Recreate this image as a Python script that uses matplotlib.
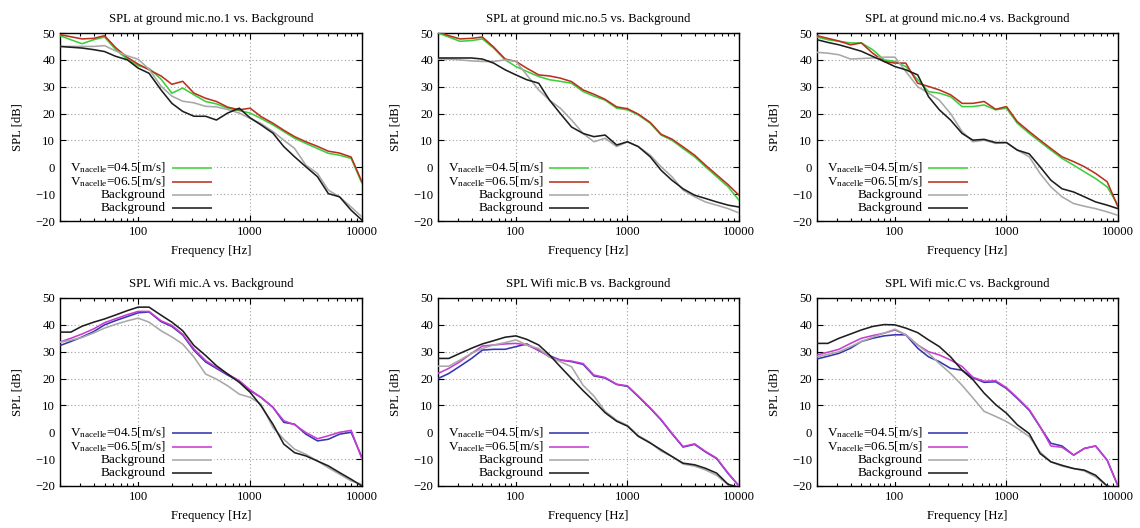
import matplotlib
matplotlib.use("Agg")
import matplotlib.pyplot as plt
from matplotlib.ticker import LogLocator, NullFormatter, FixedLocator, FixedFormatter
from matplotlib.patches import Rectangle

plt.rcParams['font.family'] = ['Liberation Serif', 'DejaVu Serif']
plt.rcParams['mathtext.fontset'] = 'custom'
plt.rcParams['mathtext.rm'] = 'Liberation Serif'
plt.rcParams['mathtext.it'] = 'Liberation Serif:italic'

# ---------------- data ----------------
freq = [20, 25, 31.5, 40, 50, 63, 80, 100, 125, 160, 200, 250, 315, 400, 500,
        630, 800, 1000, 1250, 1600, 2000, 2500, 3150, 4000, 5000, 6300, 8000, 10000]

titles = ["SPL at ground mic.no.1 vs. Background",
          "SPL at ground mic.no.5 vs. Background",
          "SPL at ground mic.no.4 vs. Background",
          "SPL Wifi mic.A vs. Background",
          "SPL Wifi mic.B vs. Background",
          "SPL Wifi mic.C vs. Background"]

labels = [r"V$_{\rm nacelle}$=04.5[m/s]", r"V$_{\rm nacelle}$=06.5[m/s]",
          "Background", "Background"]

# mic.no.1
m1_v45 = [49.0, 47.5, 46.0, 47.5, 48.5, 43.8, 40.2, 37.8, 36.8, 32.8, 27.6, 29.5, 27.0, 24.5,
          23.6, 22.0, 21.1, 20.2, 18.2, 15.8, 13.3, 10.8, 8.9, 7.0, 5.2, 4.5, 3.3, -6.0]
m1_v65 = [49.4, 48.6, 47.8, 48.0, 49.0, 44.5, 40.9, 38.4, 36.3, 34.0, 30.9, 32.0, 27.6, 25.7,
          24.5, 22.4, 21.4, 22.0, 18.9, 16.4, 13.8, 11.4, 9.5, 7.8, 6.0, 5.3, 3.8, -5.5]
m1_bg1 = [45.0, 45.0, 45.0, 45.0, 45.3, 43.3, 41.5, 40.2, 36.5, 30.2, 26.5, 24.6, 24.0, 22.7,
          22.5, 21.5, 20.2, 18.2, 16.3, 13.3, 10.1, 7.0, 0.8, -2.3, -8.5, -11.0, -14.8, -18.5]
m1_bg2 = [45.0, 44.7, 44.4, 43.8, 43.1, 41.3, 40.0, 36.9, 35.0, 28.8, 23.8, 20.8, 19.0, 19.0,
          17.6, 20.2, 22.0, 18.4, 15.8, 12.7, 7.7, 3.9, 0.2, -3.5, -9.8, -11.0, -16.0, -19.7]

# mic.no.5
m5_v45 = [50.0, 48.5, 46.9, 47.2, 47.8, 44.4, 40.0, 37.5, 35.7, 33.8, 32.6, 32.0, 31.3, 28.2,
          26.5, 25.0, 22.0, 21.4, 19.5, 16.4, 12.0, 10.1, 7.0, 3.9, 0.2, -3.5, -7.3, -12.3]
m5_v65 = [50.5, 49.0, 47.8, 48.0, 48.5, 44.8, 40.3, 39.4, 36.9, 34.4, 34.0, 33.2, 31.9, 28.8,
          27.2, 25.3, 22.5, 21.8, 19.8, 16.7, 12.3, 10.5, 7.6, 4.5, 0.8, -2.8, -6.5, -10.4]
m5_bg1 = [40.3, 40.3, 40.0, 39.6, 39.4, 39.4, 40.0, 39.4, 34.4, 28.8, 25.0, 22.0, 17.6, 12.6,
          9.5, 10.8, 7.7, 9.5, 7.7, 4.5, 0.2, -3.5, -8.5, -11.0, -12.9, -14.1, -15.4, -17.0]
m5_bg2 = [40.7, 40.7, 40.7, 40.7, 40.3, 38.8, 36.3, 34.4, 32.6, 31.3, 25.0, 20.0, 15.0, 12.6,
          11.4, 12.0, 8.3, 9.5, 7.7, 3.9, -1.1, -4.8, -8.0, -10.4, -11.6, -12.9, -14.1, -14.8]

# mic.no.4
m4_v45 = [48.5, 47.5, 46.9, 46.3, 46.3, 43.8, 40.0, 39.4, 37.5, 32.6, 28.2, 27.6, 26.3, 22.6,
          22.6, 23.2, 21.4, 22.0, 16.4, 12.6, 9.5, 6.4, 3.3, 0.8, -1.7, -4.2, -7.3, -14.1]
m4_v65 = [49.0, 48.0, 47.0, 45.6, 46.3, 42.5, 39.4, 38.8, 38.8, 31.3, 30.1, 28.8, 27.0, 23.8,
          23.8, 24.5, 21.6, 22.6, 17.0, 13.3, 10.1, 7.0, 3.9, 2.1, 0.2, -2.3, -5.4, -14.8]
m4_bg1 = [42.8, 42.5, 41.9, 40.3, 40.5, 40.7, 41.0, 41.0, 35.7, 30.0, 27.6, 25.0, 20.0, 13.3,
          9.5, 10.1, 8.9, 9.2, 6.4, 3.9, -2.3, -7.3, -11.0, -13.5, -14.5, -15.4, -16.6, -17.9]
m4_bg2 = [47.5, 46.5, 45.6, 44.4, 43.2, 41.3, 39.4, 37.5, 36.3, 34.4, 26.3, 21.4, 17.6, 12.6,
          10.1, 10.4, 9.2, 9.2, 6.4, 5.0, 0.2, -4.8, -8.0, -9.2, -11.0, -12.9, -14.1, -15.4]

# Wifi mic.A
wa_v45 = [32.3, 33.8, 35.5, 37.5, 40.0, 41.6, 43.1, 44.5, 44.8, 41.2, 39.4, 36.2, 30.5, 26.2,
          23.8, 21.3, 19.0, 15.5, 13.0, 9.3, 3.7, 3.0, -0.7, -3.2, -2.6, -0.7, 0.0, -9.4]
wa_v65 = [33.6, 35.0, 36.6, 38.5, 40.8, 42.3, 43.8, 45.0, 45.0, 41.5, 39.8, 36.5, 31.0, 26.7,
          24.2, 21.7, 19.2, 15.8, 13.0, 9.3, 4.3, 2.8, -0.1, -2.4, -1.3, 0.0, 0.7, -10.0]
wa_bg1 = [33.5, 34.3, 35.3, 37.0, 38.8, 40.2, 41.5, 42.5, 41.0, 37.8, 35.5, 32.8, 28.0, 21.7,
          19.8, 17.3, 14.2, 13.0, 10.5, 1.8, -2.6, -6.3, -8.2, -10.7, -13.2, -15.6, -18.1, -19.4]
wa_bg2 = [37.3, 37.3, 39.5, 41.0, 42.2, 43.7, 45.3, 46.6, 46.6, 43.6, 41.0, 37.8, 32.3, 28.6,
          24.8, 21.7, 18.6, 14.9, 9.9, 3.0, -4.4, -7.6, -8.8, -10.7, -12.5, -15.0, -17.5, -20.0]

# Wifi mic.B
wb_v45 = [20.0, 21.9, 24.6, 27.5, 30.6, 30.9, 30.9, 31.9, 32.9, 30.4, 28.5, 26.9, 26.3, 25.3,
          21.0, 20.2, 17.8, 17.1, 13.3, 8.9, 4.6, -0.5, -5.5, -4.5, -7.3, -9.8, -15.4, -20.0]
wb_v65 = [21.9, 23.8, 26.3, 29.4, 32.1, 32.5, 32.9, 33.1, 32.5, 30.6, 28.0, 26.9, 26.5, 25.6,
          21.3, 20.4, 17.9, 17.3, 13.5, 9.1, 4.8, -0.3, -5.3, -4.3, -7.1, -9.6, -15.2, -20.0]
wb_bg1 = [24.6, 24.6, 26.9, 29.4, 31.2, 32.5, 33.4, 34.4, 32.5, 31.2, 28.0, 26.3, 24.4, 17.5,
          13.5, 7.8, 4.5, 2.6, -1.2, -3.8, -7.0, -9.0, -11.8, -12.6, -14.0, -16.0, -19.6, -20.5]
wb_bg2 = [27.5, 27.5, 29.4, 31.3, 32.9, 34.1, 35.4, 35.9, 34.6, 32.5, 28.8, 24.4, 20.0, 15.5,
          11.6, 7.3, 4.1, 2.3, -1.5, -4.0, -6.5, -9.0, -11.5, -12.1, -13.4, -15.2, -19.4, -20.5]

# Wifi mic.C
wc_v45 = [27.3, 28.3, 29.4, 31.3, 33.8, 35.0, 35.9, 36.3, 36.3, 31.3, 28.1, 26.3, 23.8, 23.1,
          20.3, 18.6, 18.8, 16.3, 12.6, 8.2, 2.0, -4.1, -5.1, -8.5, -6.0, -5.1, -10.4, -20.0]
wc_v65 = [28.8, 29.8, 30.9, 33.1, 35.0, 36.0, 36.9, 38.1, 36.3, 32.5, 30.0, 28.8, 26.9, 24.5,
          20.5, 19.0, 19.2, 16.6, 12.9, 8.5, 2.2, -5.1, -5.6, -8.5, -6.0, -5.1, -10.4, -20.0]
wc_bg1 = [28.1, 29.0, 30.0, 31.9, 33.8, 35.4, 36.9, 38.4, 36.3, 32.5, 29.4, 25.6, 21.9, 17.5,
          12.8, 7.8, 5.9, 4.0, 1.5, -1.6, -7.3, -11.0, -12.6, -13.5, -14.4, -16.6, -20.0, -21.0]
wc_bg2 = [33.1, 33.1, 35.0, 36.6, 38.1, 39.4, 40.1, 40.0, 38.8, 37.1, 34.4, 31.9, 28.1, 23.1,
          19.6, 14.6, 10.3, 7.1, 2.8, -0.5, -7.9, -11.0, -12.3, -13.5, -14.1, -16.0, -20.0, -21.0]

panels = [
    (m1_v45, m1_v65, m1_bg1, m1_bg2),
    (m5_v45, m5_v65, m5_bg1, m5_bg2),
    (m4_v45, m4_v65, m4_bg1, m4_bg2),
    (wa_v45, wa_v65, wa_bg1, wa_bg2),
    (wb_v45, wb_v65, wb_bg1, wb_bg2),
    (wc_v45, wc_v65, wc_bg1, wc_bg2),
]

ground_colors = ["#3ccf3c", "#b8321e", "#a8a8a8", "#1e1e1e"]
wifi_colors = ["#3535b0", "#c83cd2", "#a8a8a8", "#1e1e1e"]

yticks = [-20, -10, 0, 10, 20, 30, 40, 50]
xticks = [100, 1000, 10000]

# ---------------- figure ----------------
W, H = 1140, 528
fig = plt.figure(figsize=(W / 100, H / 100), dpi=100)

col_px = [(60, 302), (438, 301), (817, 301)]
row_px = [(33, 188), (298, 188)]

fs = 9.2
fs_key = 9.5
for i, series in enumerate(panels):
    r, c = divmod(i, 3)
    left, w = col_px[c]
    top, h = row_px[r]
    ax = fig.add_axes([left / W, (H - top - h) / H, w / W, h / H])
    colors = ground_colors if r == 0 else wifi_colors
    ax.set_xscale('log')
    ax.set_xlim(20, 10000)
    ax.set_ylim(-20, 50)
    for k, (vals, col) in enumerate(zip(series, colors)):
        ax.plot(freq, vals, color=col, lw=1.15, zorder=3 + k * 0.1)
    # ticks
    ax.xaxis.set_major_locator(FixedLocator(xticks))
    ax.xaxis.set_major_formatter(FixedFormatter([str(t) for t in xticks]))
    ax.xaxis.set_minor_locator(LogLocator(base=10, subs=range(2, 10)))
    ax.xaxis.set_minor_formatter(NullFormatter())
    ax.set_yticks(yticks)
    ax.tick_params(which='both', direction='in', top=True, right=True,
                   labelsize=fs, width=0.8, color='black')
    ax.tick_params(which='major', length=4.5, pad=3.5)
    ax.tick_params(which='minor', length=2.5)
    for sp in ax.spines.values():
        sp.set_linewidth(1.0)
        sp.set_color('black')
    ax.grid(True, which='major', linestyle=(0, (1, 2.2)), color='#a0a0a0', linewidth=0.8)
    ax.set_axisbelow(True)
    ax.set_title(titles[i], fontsize=fs, pad=8)
    ax.set_xlabel("Frequency [Hz]", fontsize=fs, labelpad=5)
    ax.set_ylabel("SPL [dB]", fontsize=fs, labelpad=8)
    # opaque key (gnuplot style)
    ax.add_patch(Rectangle((0.004, 0.02), 0.505, 0.30, transform=ax.transAxes,
                           facecolor='white', edgecolor='none', zorder=2))
    rows = [0.282, 0.207, 0.138, 0.069]
    for lab, col, yy in zip(labels, colors, rows):
        ax.text(0.350, yy, lab, transform=ax.transAxes, ha='right', va='center',
                fontsize=fs_key, zorder=6)
        ax.plot([0.370, 0.502], [yy, yy], transform=ax.transAxes, color=col,
                lw=1.15, zorder=6, solid_capstyle='butt')

fig.savefig("out.png", dpi=100)
